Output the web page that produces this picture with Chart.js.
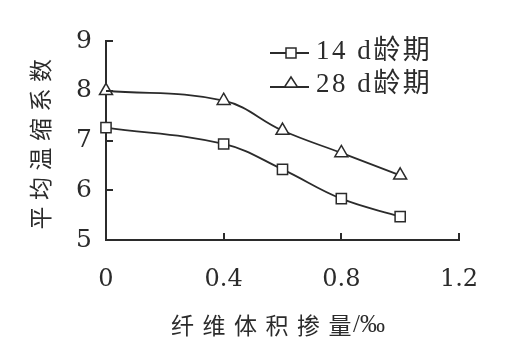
<!DOCTYPE html>
<html><head><meta charset="utf-8">
<script src="https://cdn.jsdelivr.net/npm/chart.js@4/dist/chart.umd.min.js"></script>
<style>html,body{margin:0;padding:0;background:#fff;}</style>
</head><body>
<canvas id="c" width="513" height="357" style="width:513px;height:357px;display:block"></canvas>
<script>
// ---- data ----
const fiberContent = [0, 0.4, 0.6, 0.8, 1.0];
const series14d = [7.26, 6.93, 6.42, 5.83, 5.47];
const series28d = [8.0, 7.8, 7.2, 6.75, 6.3];
const seriesLabels = ['14 d龄期', '28 d龄期'];
const xTickLabels = ['0', '0.4', '0.8', '1.2'];
const yTickLabels = ['5', '6', '7', '8', '9'];
const xTitle = '纤维体积掺量';
const xTitleUnit = '/‰';
const yTitle = '平均温缩系数';

const INK = '#2b2b2b';
const SERIF = '"DejaVu Serif", serif';
const MIXED = '"Liberation Serif","Noto Sans CJK SC",serif';
const CJK = '"Noto Sans CJK SC","Liberation Serif",sans-serif';

const toPts = ys => fiberContent.map((x, i) => ({x, y: ys[i]}));

const decor = {
  id: 'decor',
  afterDraw(chart) {
    const ctx = chart.ctx;
    const xs = chart.scales.x, ys = chart.scales.y;
    const a = chart.chartArea;
    ctx.save();
    ctx.strokeStyle = INK;
    ctx.lineWidth = 2;
    // inward tick marks
    ctx.beginPath();
    ys.ticks.forEach(t => {
      if (t.value === ys.min) return;
      const py = Math.round(ys.getPixelForValue(t.value));
      ctx.moveTo(a.left, py); ctx.lineTo(a.left + 7, py);
    });
    xs.ticks.forEach(t => {
      if (t.value === xs.min) return;
      const px = Math.round(xs.getPixelForValue(t.value));
      ctx.moveTo(px, a.bottom); ctx.lineTo(px, a.bottom - 7);
    });
    ctx.stroke();

    // legend
    const lineRows = [53, 87];
    const textRows = [52, 85];
    chart.data.datasets.forEach((ds, i) => {
      const y = lineRows[i];
      ctx.strokeStyle = INK; ctx.lineWidth = 1.8;
      ctx.beginPath(); ctx.moveTo(270, y); ctx.lineTo(309, y); ctx.stroke();
      ctx.fillStyle = '#fff'; ctx.lineWidth = 1.5;
      const cx = 291;
      ctx.beginPath();
      if (ds.pointStyle === 'rect') {
        ctx.rect(cx - 5, y - 5, 10, 10);
      } else {
        ctx.moveTo(cx, y - 10); ctx.lineTo(cx + 6.5, y); ctx.lineTo(cx - 6.5, y); ctx.closePath();
      }
      ctx.fill(); ctx.stroke();
      ctx.fillStyle = INK;
      ctx.font = '27px ' + MIXED;
      ctx.textAlign = 'left'; ctx.textBaseline = 'middle';
      ctx.letterSpacing = '2.5px';
      ctx.fillText(ds.label, 316, textRows[i]);
      ctx.letterSpacing = '0px';
    });

    // x axis title
    ctx.fillStyle = INK;
    ctx.font = '23px ' + CJK;
    ctx.textAlign = 'left'; ctx.textBaseline = 'middle';
    ctx.letterSpacing = '8.5px';
    const x0 = 171;
    ctx.fillText(xTitle, x0, 325);
    const w = ctx.measureText(xTitle).width;
    ctx.letterSpacing = '0px';
    ctx.font = '25px "Liberation Serif", serif';
    ctx.fillText(xTitleUnit, x0 + w - 7, 325);

    // y axis title
    ctx.save();
    ctx.translate(40, 144);
    ctx.rotate(-Math.PI / 2);
    ctx.font = '23px ' + CJK;
    ctx.textAlign = 'center'; ctx.textBaseline = 'middle';
    ctx.letterSpacing = '6.5px';
    ctx.fillText(yTitle, 3, 0);
    ctx.restore();
    ctx.restore();
  }
};

new Chart(document.getElementById('c'), {
  type: 'line',
  data: {
    datasets: [
      { label: seriesLabels[0], data: toPts(series14d), pointStyle: 'rect', pointRadius: 7.2 },
      { label: seriesLabels[1], data: toPts(series28d), pointStyle: 'triangle', pointRadius: 7.5 }
    ].map(d => Object.assign({
      borderColor: INK, borderWidth: 1.8, tension: 0.4,
      pointBackgroundColor: '#fff', pointBorderColor: INK, pointBorderWidth: 1.5,
      fill: false, clip: false
    }, d))
  },
  options: {
    responsive: false, animation: false, devicePixelRatio: 1,
    layout: { padding: { left: 0, right: 54, top: 41, bottom: 0 } },
    plugins: { legend: { display: false }, tooltip: { enabled: false } },
    scales: {
      x: {
        type: 'linear', min: 0, max: 1.2,
        afterFit: s => { s.height = 117; },
        grid: { display: false, drawTicks: false },
        border: { display: true, color: INK, width: 2 },
        ticks: { stepSize: 0.4, padding: 25, color: INK, font: { family: SERIF, size: 24 },
          maxRotation: 0, callback: (v, i) => xTickLabels[i] }
      },
      y: {
        type: 'linear', min: 5, max: 9,
        afterFit: s => { s.width = 106; },
        grid: { display: false, drawTicks: false },
        border: { display: true, color: INK, width: 2 },
        ticks: { stepSize: 1, padding: 14, color: INK, font: { family: SERIF, size: 25 },
          callback: (v, i) => yTickLabels[i] }
      }
    }
  },
  plugins: [decor]
});
</script>
</body></html>
